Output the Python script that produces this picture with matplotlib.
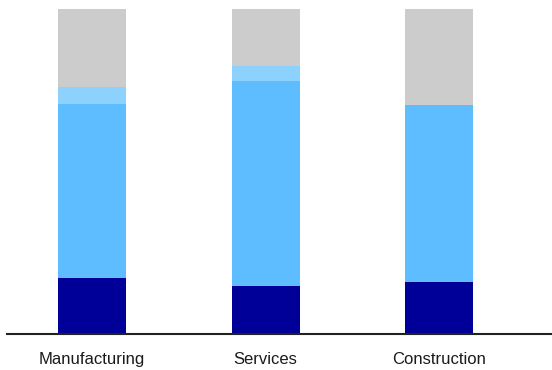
import matplotlib.pyplot as plt
import numpy as np

categories = ["Manufacturing", "Services", "Construction"]
navy = [17.2, 14.7, 16.0]
blue = [53.6, 63.0, 54.5]
light = [5.1, 4.8, 0.0]
gray = [24.1, 17.5, 29.5]

colors = ["#000099", "#5EBDFF", "#8DD1FF", "#CCCCCC"]

fig = plt.figure(figsize=(5.52, 3.70), dpi=100)
ax = fig.add_axes([7 / 552, 1 - 333.5 / 370, 545 / 552, 324.5 / 370])

x = np.arange(len(categories))
bottom = np.zeros(len(categories))
for vals, c in zip([navy, blue, light, gray], colors):
    ax.bar(x, vals, width=0.392, bottom=bottom, color=c, edgecolor="none")
    bottom += np.array(vals)

ax.set_xlim(-0.49, 2.65)
ax.set_ylim(0, 100)
ax.set_yticks([])
ax.set_xticks(x)
ax.set_xticklabels(categories, fontsize=12, family="Liberation Sans", color="#1a1a1a")
ax.tick_params(axis="x", length=0, pad=13)
for s in ["top", "right", "left"]:
    ax.spines[s].set_visible(False)
ax.spines["bottom"].set_linewidth(1.5)
ax.spines["bottom"].set_color("#222222")

fig.savefig("out.png", dpi=100)
